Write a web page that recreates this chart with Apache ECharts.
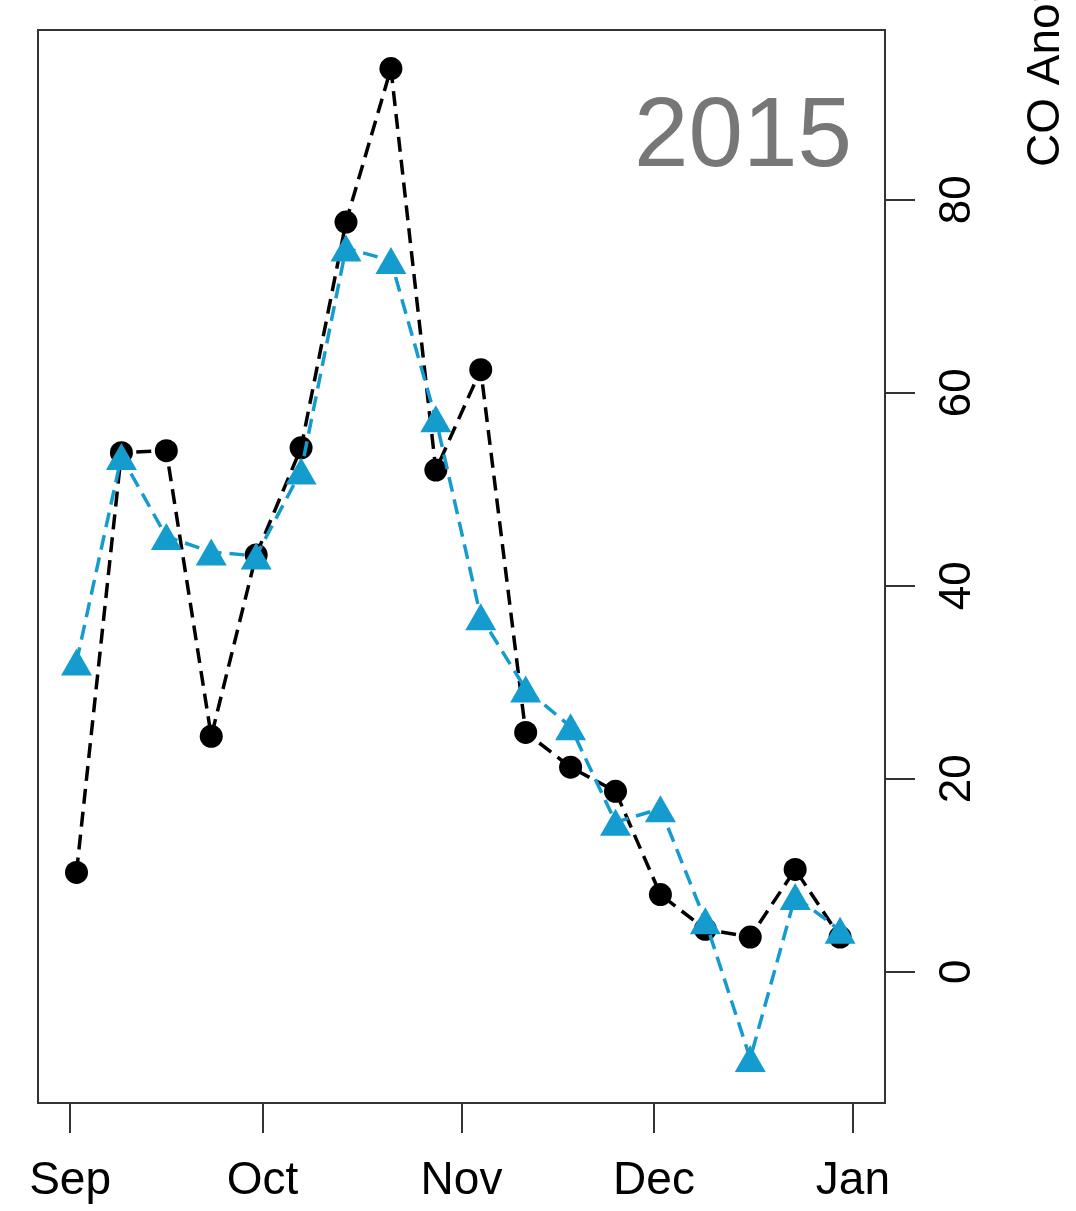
<!DOCTYPE html>
<html>
<head>
<meta charset="utf-8">
<script src="https://cdn.jsdelivr.net/npm/echarts@6/dist/echarts.min.js"></script>
<style>
  html, body { margin: 0; padding: 0; background: #fff; }
  #chart { width: 1076px; height: 1211px; }
</style>
</head>
<body>
<div id="chart"></div>
<script>
// weekly dates, 2015
const weekDates = [
  "2015-09-02", "2015-09-09", "2015-09-16", "2015-09-23", "2015-09-30",
  "2015-10-07", "2015-10-14", "2015-10-21", "2015-10-28",
  "2015-11-04", "2015-11-11", "2015-11-18", "2015-11-25",
  "2015-12-02", "2015-12-09", "2015-12-16", "2015-12-23", "2015-12-30"
]
// black circles
const blackValues = [10.3, 53.8, 54.0, 24.4, 43.2, 54.3, 77.7, 93.6, 52.0, 62.4, 24.8, 21.2, 18.7, 8.0, 4.4, 3.6, 10.6, 3.6]
// blue triangles
const blueValues = [32.1, 53.4, 45.1, 43.5, 43.1, 51.9, 75.0, 73.7, 57.3, 36.8, 29.3, 25.4, 15.5, 16.9, 5.3, -9.0, 7.8, 4.3]
const monthTicks = ["2015-09-01", "2015-10-01", "2015-11-01", "2015-12-01", "2016-01-01"]
const monthLabels = ["Sep", "Oct", "Nov", "Dec", "Jan"]
const yTicks = [0, 20, 40, 60, 80]
const yearLabel = "2015"
const yAxisTitle = "CO Anomaly (ppb)"

// dates -> ms, drawn on a plain value axis
const toTime = (s) => {
  const [y, m, d] = s.split("-").map(Number)
  return Date.UTC(y, m - 1, d)
}
const tickTimes = monthTicks.map(toTime)

const chart = echarts.init(document.getElementById("chart"))

const font = "Liberation Sans, Arial, Helvetica, sans-serif"

const option = {
  animation: false,
  backgroundColor: "#fff",
  grid: {
    left: 38, right: 191, top: 30, bottom: 108,
    show: true, borderColor: "#333", borderWidth: 2
  },
  xAxis: {
    type: "value",
    min: Date.UTC(2015, 7, 27),
    max: Date.UTC(2016, 0, 6),
    splitLine: { show: false },
    axisLine: { show: false, onZero: false },
    axisTick: {
      show: true, length: 30, customValues: tickTimes,
      lineStyle: { color: "#333", width: 2 }
    },
    axisLabel: {
      customValues: tickTimes,
      margin: 55,
      fontSize: 46,
      fontFamily: font,
      color: "#000",
      formatter: (v) => {
        const i = tickTimes.findIndex((t) => Math.abs(t - v) < 1000)
        return i >= 0 ? monthLabels[i] : ""
      }
    }
  },
  yAxis: {
    type: "value",
    position: "right",
    min: -13.6,
    max: 97.6,
    splitLine: { show: false },
    axisLine: { show: false, onZero: false },
    axisTick: {
      show: true, length: 30, customValues: yTicks,
      lineStyle: { color: "#333", width: 2 }
    },
    axisLabel: {
      customValues: yTicks,
      rotate: 90,
      margin: 51,
      fontSize: 44,
      fontFamily: font,
      color: "#000"
    }
  },
  graphic: [
    {
      type: "text",
      right: 1076 - 852,
      top: 90,
      style: { text: yearLabel, fontSize: 98, fontFamily: font, fill: "#777" }
    },
    {
      type: "text",
      x: 1046, y: 167,
      rotation: Math.PI / 2,
      style: {
        text: yAxisTitle, fontSize: 46, fontFamily: font, fill: "#000",
        textAlign: "left", textVerticalAlign: "middle"
      }
    }
  ],
  series: [
    {
      name: "black",
      type: "line",
      data: weekDates.map((d, i) => [toTime(d), blackValues[i]]),
      symbol: "circle",
      symbolSize: 23,
      itemStyle: { color: "#000" },
      lineStyle: { color: "#000", width: 3.5, type: [15, 8] },
      z: 2
    },
    {
      name: "blue",
      type: "line",
      data: weekDates.map((d, i) => [toTime(d), blueValues[i]]),
      symbol: "triangle",
      symbolSize: [31, 27],
      itemStyle: { color: "#159ccf" },
      lineStyle: { color: "#159ccf", width: 3.5, type: [15, 8] },
      z: 3
    }
  ]
}

chart.setOption(option)
window.addEventListener("resize", () => chart.resize())
</script>
</body>
</html>
